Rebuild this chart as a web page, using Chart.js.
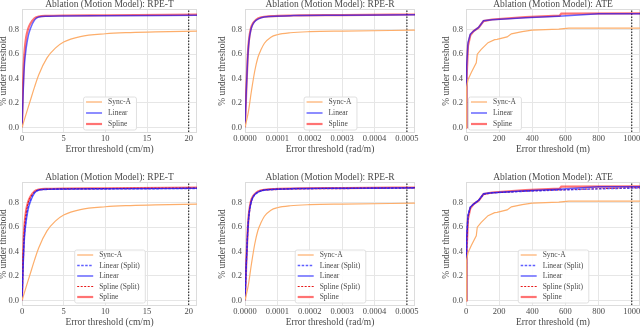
<!DOCTYPE html>
<html>
<head>
<meta charset="utf-8">
<script src="https://cdn.jsdelivr.net/npm/chart.js@4.4.1/dist/chart.umd.min.js"></script>
<style>
  body { margin: 0; width: 640px; height: 328px; overflow: hidden; background: #fff; position: relative; }
  canvas { position: absolute; }
</style>
</head>
<body>
<canvas id="c0"></canvas>
<canvas id="c1"></canvas>
<canvas id="c2"></canvas>
<canvas id="c3"></canvas>
<canvas id="c4"></canvas>
<canvas id="c5"></canvas>
<script>
// Titles and axis settings, one entry per column
const titles = ["Ablation (Motion Model): RPE-T", "Ablation (Motion Model): RPE-R", "Ablation (Motion Model): ATE"];
const xTitles = ["Error threshold (cm/m)", "Error threshold (rad/m)", "Error threshold (m)"];
const xMax = [21, 0.000525, 1050];
const xStep = [5, 0.0001, 200];
const xDecimals = [0, 4, 0];
const thresholds = [20, 0.0005, 1000];
const yTicks = [0, 0.2, 0.4, 0.6, 0.8];

// RPE-T (cm/m)
const rpeT_syncA_x = [0, 0.5, 1, 1.5, 2, 3, 4, 5, 7, 10, 13, 16, 21];
const rpeT_syncA = [0, 0.11, 0.22, 0.33, 0.43, 0.57, 0.65, 0.70, 0.745, 0.768, 0.778, 0.784, 0.79];
const rpeT_x = [0, 0.1, 0.2, 0.3, 0.5, 0.75, 1, 1.5, 2, 3, 5, 10, 21];
const rpeT_linear = [0, 0.2, 0.4, 0.52, 0.65, 0.75, 0.81, 0.88, 0.905, 0.912, 0.914, 0.916, 0.92];
const rpeT_spline = [0, 0.3, 0.5, 0.62, 0.74, 0.81, 0.85, 0.895, 0.91, 0.915, 0.918, 0.92, 0.925];
const rpeT_linearSplit = [0, 0.22, 0.42, 0.54, 0.67, 0.77, 0.82, 0.885, 0.903, 0.91, 0.912, 0.914, 0.918];
const rpeT_splineSplit = [0, 0.28, 0.48, 0.6, 0.72, 0.8, 0.845, 0.89, 0.906, 0.912, 0.915, 0.918, 0.922];

// RPE-R (rad/m)
const rpeR_syncA_x = [0, 0.00001, 0.00002, 0.00003, 0.00004, 0.00005, 0.00006, 0.00008, 0.0001, 0.00014, 0.0002, 0.0003, 0.000525];
const rpeR_syncA = [0, 0.12, 0.3, 0.46, 0.575, 0.64, 0.69, 0.74, 0.76, 0.776, 0.785, 0.79, 0.797];
const rpeR_x = [0, 0.000004, 0.000008, 0.000012, 0.000018, 0.000025, 0.000035, 0.00005, 0.00008, 0.00015, 0.0003, 0.000525];
const rpeR_linear = [0, 0.3, 0.55, 0.7, 0.8, 0.85, 0.88, 0.9, 0.91, 0.917, 0.92, 0.924];
const rpeR_spline = [0, 0.31, 0.56, 0.71, 0.81, 0.855, 0.885, 0.903, 0.912, 0.918, 0.921, 0.926];
const rpeR_linearSplit = [0, 0.29, 0.54, 0.69, 0.79, 0.845, 0.877, 0.898, 0.908, 0.914, 0.918, 0.921];
const rpeR_splineSplit = [0, 0.3, 0.55, 0.7, 0.8, 0.85, 0.88, 0.9, 0.91, 0.916, 0.92, 0.923];

// ATE (m)
const ate_syncA_x = [0, 2, 6, 12, 32, 62, 68, 92, 133, 173, 187, 248, 274, 339, 399, 560, 620, 1050];
const ate_syncA = [0, 0.25, 0.33, 0.39, 0.45, 0.53, 0.6, 0.64, 0.695, 0.72, 0.722, 0.742, 0.767, 0.786, 0.797, 0.806, 0.814, 0.814];
const ate_linear_x = [0, 4, 12, 26, 46, 76, 106, 157, 358, 560, 800, 1050];
const ate_linear = [0, 0.5, 0.695, 0.764, 0.79, 0.82, 0.875, 0.883, 0.9, 0.912, 0.933, 0.933];
const ate_spline_x = [0, 4, 12, 26, 46, 76, 106, 157, 358, 565, 575, 1050];
const ate_spline = [0, 0.42, 0.67, 0.755, 0.79, 0.818, 0.872, 0.885, 0.905, 0.917, 0.933, 0.935];
const ate_linearSplit = [0, 0.52, 0.7, 0.765, 0.79, 0.82, 0.872, 0.882, 0.895, 0.905, 0.915, 0.922];
const ate_splineSplit = [0, 0.45, 0.68, 0.76, 0.79, 0.82, 0.87, 0.882, 0.896, 0.906, 0.916, 0.924];

const FONT = "'Liberation Serif', 'Times New Roman', serif";
const TEXT = "#4a4a4a";

// canvas placement: left, width, right padding, y axis width
const cols = [
  { left: -2, width: 199, padR: 0, yW: 24 },
  { left: 217, width: 208, padR: 10, yW: 28 },
  { left: 441, width: 199, padR: 0, yW: 25 },
];
const rowTops = [0, 173];

const styles = {
  sync: { borderColor: "#fdae6b", borderWidth: 1.2 },
  linear: { borderColor: "rgba(0,0,255,0.6)", borderWidth: 1.5 },
  spline: { borderColor: "rgba(255,0,0,0.55)", borderWidth: 2.2 },
  linearSplit: { borderColor: "rgba(40,40,255,0.75)", borderWidth: 1.4, borderDash: [2.5, 1.5] },
  splineSplit: { borderColor: "rgba(230,0,0,0.9)", borderWidth: 1, borderDash: [2, 1.5] },
  thresh: { borderColor: "#333", borderWidth: 1.2, borderDash: [1.5, 1.5] },
};

function series(label, xs, ys, style, smooth) {
  return {
    label: label,
    data: xs.map((x, i) => ({ x: x, y: ys[i] })),
    pointRadius: 0,
    fill: false,
    cubicInterpolationMode: smooth ? "monotone" : "default",
    tension: 0,
    inLegend: true,
    ...style,
  };
}

function thresholdLine(x) {
  return {
    label: "",
    data: [{ x: x, y: -1 }, { x: x, y: 2 }],
    pointRadius: 0,
    inLegend: false,
    ...styles.thresh,
  };
}

function buildDatasets(col, split) {
  let ds = [];
  if (col === 0) {
    ds.push(series("Sync-A", rpeT_syncA_x, rpeT_syncA, styles.sync, true));
    if (split) ds.push(series("Linear (Split)", rpeT_x, rpeT_linearSplit, styles.linearSplit, true));
    ds.push(series("Linear", rpeT_x, rpeT_linear, styles.linear, true));
    if (split) ds.push(series("Spline (Split)", rpeT_x, rpeT_splineSplit, styles.splineSplit, true));
    ds.push(series("Spline", rpeT_x, rpeT_spline, styles.spline, true));
  } else if (col === 1) {
    ds.push(series("Sync-A", rpeR_syncA_x, rpeR_syncA, styles.sync, true));
    if (split) ds.push(series("Linear (Split)", rpeR_x, rpeR_linearSplit, styles.linearSplit, true));
    ds.push(series("Linear", rpeR_x, rpeR_linear, styles.linear, true));
    if (split) ds.push(series("Spline (Split)", rpeR_x, rpeR_splineSplit, styles.splineSplit, true));
    ds.push(series("Spline", rpeR_x, rpeR_spline, styles.spline, true));
  } else {
    ds.push(series("Sync-A", ate_syncA_x, ate_syncA, styles.sync, false));
    if (split) ds.push(series("Linear (Split)", ate_linear_x, ate_linearSplit, styles.linearSplit, false));
    ds.push(series("Linear", ate_linear_x, ate_linear, styles.linear, false));
    if (split) ds.push(series("Spline (Split)", ate_linear_x, ate_splineSplit, styles.splineSplit, false));
    ds.push(series("Spline", ate_spline_x, ate_spline, styles.spline, false));
  }
  ds.push(thresholdLine(thresholds[col]));
  return ds;
}

// light frame round the plot area (all four spines)
const framePlugin = {
  id: "frame",
  beforeDatasetsDraw(chart) {
    const { ctx, chartArea: a } = chart;
    ctx.save();
    ctx.strokeStyle = "#dcdcdc";
    ctx.lineWidth = 1;
    ctx.strokeRect(a.left + 0.5, a.top + 0.5, a.right - a.left - 1, a.bottom - a.top - 1);
    ctx.restore();
  },
};

// matplotlib-like legend box inside the plot area
const boxLegend = {
  id: "boxLegend",
  afterDraw(chart, args, opts) {
    const { ctx, chartArea: a } = chart;
    const items = chart.data.datasets.filter((d) => d.inLegend);
    const rowH = opts.rowH, padX = 3, lineLen = 16, gap = 6;
    ctx.save();
    ctx.font = opts.fontSize + "px " + FONT;
    let tw = 0;
    items.forEach((d) => { tw = Math.max(tw, ctx.measureText(d.label).width); });
    const w = padX + lineLen + gap + tw + padX + 2;
    const h = (items.length - 1) * rowH + 11;
    const x = opts.loc === "left" ? a.left + 2 : (a.left + a.right) / 2 - w / 2;
    const y = a.bottom - 3.5 - h;
    ctx.fillStyle = "rgba(255,255,255,0.85)";
    ctx.strokeStyle = "#e0e0e0";
    ctx.lineWidth = 1;
    ctx.beginPath();
    ctx.roundRect(x + 0.5, y + 0.5, w, h, 2);
    ctx.fill();
    ctx.stroke();
    items.forEach((d, i) => {
      const cy = y + 5.5 + i * rowH;
      ctx.strokeStyle = d.borderColor;
      ctx.lineWidth = d.borderWidth;
      ctx.setLineDash(d.borderDash || []);
      ctx.beginPath();
      ctx.moveTo(x + padX, cy);
      ctx.lineTo(x + padX + lineLen, cy);
      ctx.stroke();
      ctx.setLineDash([]);
      ctx.fillStyle = TEXT;
      ctx.textBaseline = "middle";
      ctx.fillText(d.label, x + padX + lineLen + gap, cy + 0.5);
    });
    ctx.restore();
  },
};

for (let row = 0; row < 2; row++) {
  for (let col = 0; col < 3; col++) {
    const c = cols[col];
    const canvas = document.getElementById("c" + (row * 3 + col));
    canvas.width = c.width;
    canvas.height = 155;
    canvas.style.left = c.left + "px";
    canvas.style.top = rowTops[row] + "px";
    const split = row === 1;

    new Chart(canvas.getContext("2d"), {
      type: "line",
      data: { datasets: buildDatasets(col, split) },
      options: {
        responsive: false,
        animation: false,
        layout: { padding: { top: 0, left: 0, bottom: 0, right: c.padR } },
        scales: {
          x: {
            type: "linear",
            min: 0,
            max: xMax[col],
            grid: { color: "#e6e6e6", drawTicks: false },
            border: { display: false },
            ticks: {
              stepSize: xStep[col],
              includeBounds: false,
              padding: 1,
              color: TEXT,
              font: { family: FONT, size: 8.5 },
              maxRotation: 0,
              autoSkip: false,
              callback: (v) => Number(v).toFixed(xDecimals[col]),
            },
            title: {
              display: true,
              text: xTitles[col],
              color: TEXT,
              padding: 0,
              font: { family: FONT, size: 9.5 },
            },
            afterFit: (s) => { s.height = 22; s.paddingLeft = 0; s.paddingRight = 0; },
          },
          y: {
            min: -0.047,
            max: 0.971,
            grid: { color: "#e6e6e6", drawTicks: false },
            border: { display: false },
            afterBuildTicks: (s) => { s.ticks = yTicks.map((v) => ({ value: v })); },
            ticks: {
              padding: 3,
              color: TEXT,
              font: { family: FONT, size: 8.5 },
              callback: (v) => Number(v).toFixed(1),
            },
            title: {
              display: true,
              text: "% under threshold",
              color: TEXT,
              padding: 0,
              font: { family: FONT, size: 9.5 },
            },
            afterFit: (s) => { s.width = c.yW; s.paddingTop = 0; s.paddingBottom = 0; },
          },
        },
        plugins: {
          legend: { display: false },
          tooltip: { enabled: false },
          title: {
            display: true,
            text: titles[col],
            fullSize: false,
            color: TEXT,
            padding: 0,
            font: { family: FONT, size: 9.5, weight: "normal", lineHeight: 0.95 },
          },
          boxLegend: {
            loc: !split && col === 2 ? "left" : "center",
            rowH: split ? 10.5 : 11,
            fontSize: 7.5,
          },
        },
      },
      plugins: [framePlugin, boxLegend],
    });
  }
}
</script>
</body>
</html>
